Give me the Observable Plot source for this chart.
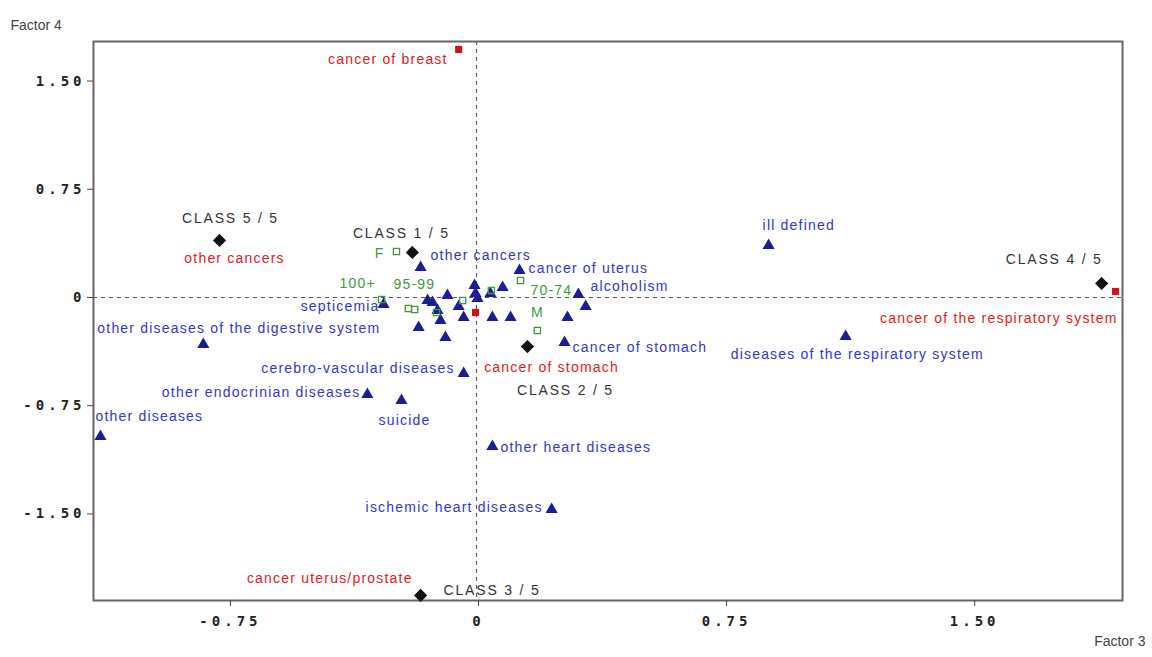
<!DOCTYPE html>
<html><head><meta charset="utf-8">
<script src="https://cdn.jsdelivr.net/npm/d3@7"></script>
<script src="https://cdn.jsdelivr.net/npm/@observablehq/plot@0.6"></script>
<style>
body{margin:0;background:#fff;}
#chart svg{display:block;}
</style></head>
<body><div id="chart"></div>
<script>
// ---- data ----
const classNames = ["CLASS 1 / 5","CLASS 2 / 5","CLASS 3 / 5","CLASS 4 / 5","CLASS 5 / 5"];
const classX = [-0.194, 0.154, -0.169, 1.890, -0.777];
const classY = [0.312, -0.340, -2.065, 0.097, 0.395];

const redNames = ["cancer of breast","cancer of the respiratory system","other cancers","cancer of stomach","cancer uterus/prostate"];
const redX = [-0.054, 1.932, -0.777, -0.003, -0.169];
const redY = [1.719, 0.042, 0.395, -0.104, -2.065];

const causeNames = ["other cancers","cancer of uterus","alcoholism","septicemia","other diseases of the digestive system",
  "cerebro-vascular diseases","other endocrinian diseases","suicide","other diseases","other heart diseases",
  "ischemic heart diseases","cancer of stomach","ill defined","diseases of the respiratory system"];
const causeX = [-0.169, 0.130, 0.308, -0.281, -0.826, -0.039, -0.330, -0.227, -1.137, 0.048, 0.227, 0.266, 0.883, 1.116];
const causeY = [0.208, 0.187, 0.021, -0.049, -0.326, -0.527, -0.672, -0.714, -0.963, -1.033, -1.469, -0.312, 0.360, -0.270];

// unlabeled triangles in the crowded centre
const otherCauseX = [-0.175,-0.109,-0.094,-0.088,-0.054,-0.039,-0.148,-0.133,-0.118,-0.006,-0.003,0.003,0.048,0.079,0.103,0.275,0.330,0.042];
const otherCauseY = [-0.208,-0.159,-0.277,0.014,-0.062,-0.139,-0.021,-0.035,-0.090,0.083,0.028,-0.007,-0.139,0.069,-0.139,-0.139,-0.062,0.028];

const greenNames = ["F","100+","95-99","","","","","70-74","M"];
const greenX = [-0.242,-0.287,-0.206,-0.187,-0.121,-0.042,0.045,0.133,0.184];
const greenY = [0.319,-0.014,-0.076,-0.083,-0.104,-0.021,0.049,0.118,-0.229];

const xTicks = [-0.75, 0, 0.75, 1.5];
const xTickLabels = ["-0.75","0","0.75","1.50"];
const yTicks = [-1.5, -0.75, 0, 0.75, 1.5];
const yTickLabels = ["-1.50","-0.75","0","0.75","1.50"];
const xTitle = "Factor 3";
const yTitle = "Factor 4";

// ---- tables ----
const classes = classNames.map((n,i)=>({name:n,x:classX[i],y:classY[i]}));
const reds = redNames.map((n,i)=>({name:n,x:redX[i],y:redY[i]}));
const causes = causeNames.map((n,i)=>({name:n,x:causeX[i],y:causeY[i]}));
const others = otherCauseX.map((v,i)=>({x:v,y:otherCauseY[i]}));
const greens = greenNames.map((n,i)=>({name:n,x:greenX[i],y:greenY[i]}));

// label placement: [anchor, dx, dy]
const classPlace = {"CLASS 1 / 5":["middle",-11,-19],"CLASS 2 / 5":["middle",38,44],"CLASS 3 / 5":["start",23,-5],"CLASS 4 / 5":["end",1,-24],"CLASS 5 / 5":["middle",11,-22]};
const redPlace = {"cancer of breast":["end",-11,10],"cancer of the respiratory system":["end",2,27],"other cancers":["middle",15,18],"cancer of stomach":["middle",76,55],"cancer uterus/prostate":["end",-8,-17]};
const causePlace = {"other cancers":["start",10,-12],"cancer of uterus":["start",9,-2],"alcoholism":["start",12,-8],"septicemia":["end",-4,2],
  "other diseases of the digestive system":["start",-106,-16],"cerebro-vascular diseases":["end",-9,-5],"other endocrinian diseases":["end",-7,-2],
  "suicide":["middle",3,20],"other diseases":["start",-5,-20],"other heart diseases":["start",8,1],"ischemic heart diseases":["end",-9,-2],
  "cancer of stomach":["start",8,5],"ill defined":["start",-6,-20],"diseases of the respiratory system":["start",-115,18]};
const greenPlace = {"F":["end",-12,2],"100+":["middle",-24,-16],"95-99":["middle",6,-24],"70-74":["start",10,10],"M":["middle",0,-18]};

const FONT = "Liberation Sans, Arial, sans-serif";
function labels(data, place, color, ls) {
  return data.filter(d => place[d.name]).map(d => {
    const [a, dx, dy] = place[d.name];
    return Plot.text([d], {x:"x", y:"y", text:"name", textAnchor:a, dx, dy, fill:color, fontSize:14, fontFamily:FONT,
      render: (i, s, v, dim, ctx, next) => { const g = next(i, s, v, dim, ctx); g.setAttribute("letter-spacing", ls); return g; }});
  });
}

const chart = Plot.plot({
  width: 1152, height: 657,
  marginLeft: 93, marginRight: 30, marginTop: 41, marginBottom: 57,
  x: {domain: [-1.158, 1.953]},
  y: {domain: [-2.10, 1.774]},
  style: {fontFamily: FONT, background: "#fff"},
  marks: [
    Plot.ruleX([0], {stroke:"#555", strokeDasharray:"4,4", strokeWidth:1.2}),
    Plot.ruleY([0], {stroke:"#555", strokeDasharray:"4,4", strokeWidth:1.2}),
    Plot.frame({stroke:"#666", strokeWidth:2}),
    Plot.axisX({ticks: xTicks, tickFormat: (d)=>xTickLabels[xTicks.indexOf(d)], tickSize: 6, tickPadding: 10, label: null, dx: 2,
      fontSize: 14, fontWeight: "bold", fontFamily: "DejaVu Sans Mono, monospace", stroke: "#444", fill:"#222",
      render: (i, s, v, dim, ctx, next) => { const g = next(i, s, v, dim, ctx); g.setAttribute("letter-spacing", "4"); return g; }}),
    Plot.axisY({ticks: yTicks, tickFormat: (d)=>yTickLabels[yTicks.indexOf(d)], tickSize: 6, tickPadding: 2, label: null,
      fontSize: 14, fontWeight: "bold", fontFamily: "DejaVu Sans Mono, monospace", stroke: "#444", fill:"#222",
      render: (i, s, v, dim, ctx, next) => { const g = next(i, s, v, dim, ctx); g.setAttribute("letter-spacing", "4"); return g; }}),
    Plot.text([yTitle], {frameAnchor:"top-left", dx:-83, dy:-21, textAnchor:"start", fill:"#444", fontSize:14, fontFamily:FONT}),
    Plot.text([xTitle], {frameAnchor:"bottom-right", dx:23, dy:45, textAnchor:"end", fill:"#444", fontSize:14, fontFamily:FONT}),
    Plot.dot(others, {x:"x", y:"y", symbol:"triangle", r:4.5, fill:"#1c1c96"}),
    Plot.dot(causes, {x:"x", y:"y", symbol:"triangle", r:4.5, fill:"#1c1c96"}),
    Plot.dot(greens, {x:"x", y:"y", symbol:"square", r:3.5, fill:"none", stroke:"#3d9a3d", strokeWidth:1.3}),
    Plot.dot(reds, {x:"x", y:"y", symbol:"square", r:4, fill:"#d0101a"}),
    Plot.dot(classes, {x:"x", y:"y", symbol:"diamond2", r:5, fill:"#111", stroke:"#111"}),
    ...labels(causes, causePlace, "#3535c8", "1.2"),
    ...labels(reds, redPlace, "#e02020", "1.2"),
    ...labels(greens, greenPlace, "#3d9a3d", "1.2"),
    ...labels(classes, classPlace, "#333", "1.8")
  ]
});
document.getElementById("chart").appendChild(chart);
</script>
</body></html>
